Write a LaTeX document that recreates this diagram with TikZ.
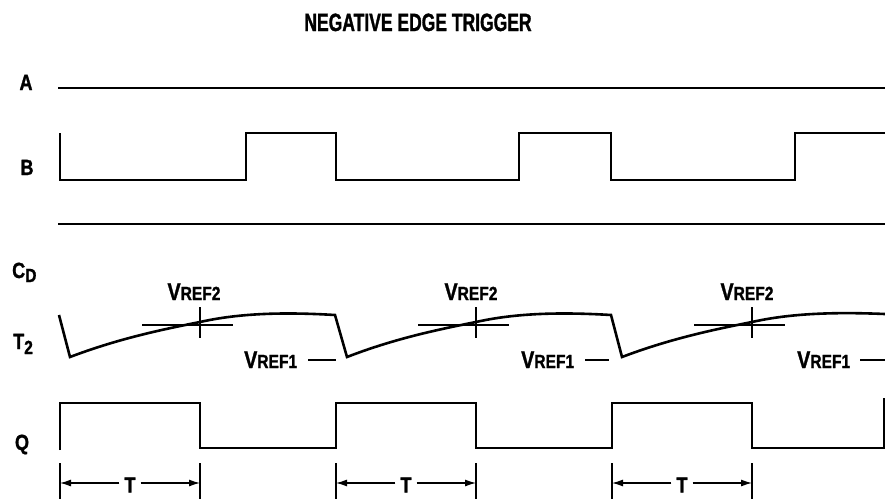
\documentclass[tikz,border=0pt]{standalone}
\usepackage{fontspec}
\newfontfamily\condt{Liberation Sans Bold}[FakeStretch=0.70,FakeBold=1.2]
\newfontfamily\cond{Liberation Sans Bold}[FakeStretch=0.82,FakeBold=1.2]
\usetikzlibrary{arrows.meta}
\tikzset{
  wave/.style={line width=2.6pt, line join=miter},
  thin/.style={line width=1.2pt},
  lbl/.style={font=\cond\fontsize{22}{22}\selectfont, inner sep=0pt, anchor=base},
  dim/.style={line width=1.2pt, -{Latex[length=11pt,width=7pt]}},
}
\newcommand{\vref}[1]{{\fontsize{24}{24}\selectfont V}{\fontsize{19}{19}\selectfont REF#1}}
\begin{document}
\begin{tikzpicture}[x=1pt,y=-1pt]
\useasboundingbox (0,0) rectangle (885,499);
% title
\node[lbl, font=\condt\fontsize{25}{25}\selectfont] (title) at (418,31) {NEGATIVE EDGE TRIGGER};
% labels
\node[lbl] (la) at (26,90) {A};
\node[lbl] (lb) at (27,175) {B};
\node[lbl, anchor=base west] (lcd) at (12,278) {C\raisebox{-4pt}{\fontsize{19}{19}\selectfont D}};
\node[lbl, anchor=base west] (lt2) at (13,349) {T\raisebox{-5pt}{\fontsize{19}{19}\selectfont 2}};
\node[lbl] (lq) at (22,450) {Q};
% A
\draw[wave] (58,88) -- (885,88);
% B
\draw[wave] (60,133) -- (60,180) -- (246,180) -- (246,133) -- (336,133) -- (336,180)
  -- (519,180) -- (519,133) -- (611,133) -- (611,180) -- (795,180) -- (795,133) -- (885,133);
% separator
\draw[wave] (58,224) -- (885,224);
% crosshairs
\foreach \i in {0,276,552}{
  \begin{scope}[xshift=\i]
    \draw[thin] (142,325) -- (233,325);
    \draw[thin] (200,307) -- (200,338);
  \end{scope}
}
% T2 waveform
\draw[wave] (59,315) -- (70,357) .. controls (120,338) and (165,329) .. (200,322)
  .. controls (240,313) and (285,312) .. (335,315)
  -- (347,357) .. controls (396,338) and (441,329) .. (476,322)
  .. controls (516,313) and (561,312) .. (611,315)
  -- (622,357) .. controls (672,338) and (717,329) .. (752,322)
  .. controls (792,313) and (837,312) .. (885,314);
% VREF labels
\node[lbl] (v2a) at (194,300) {\vref{2}};
\node[lbl] (v2b) at (471,300) {\vref{2}};
\node[lbl] (v2c) at (747,300) {\vref{2}};
\node[lbl, anchor=base west] (v1a) at (244,368) {\vref{1}};
\node[lbl, anchor=base west] (v1b) at (521,368) {\vref{1}};
\node[lbl, anchor=base west] (v1c) at (797,368) {\vref{1}};
\coordinate (d1a) at (308,360); \coordinate (d1b) at (336,360);
\coordinate (d2a) at (585,360); \coordinate (d2b) at (609,360);
\coordinate (d3a) at (860,360); \coordinate (d3b) at (885,360);
\draw[thin] (d1a) -- (d1b);
\draw[thin] (d2a) -- (d2b);
\draw[thin] (d3a) -- (d3b);
% Q
\draw[wave] (60,450) -- (60,403) -- (200,403) -- (200,448) -- (336,448) -- (336,403)
  -- (476,403) -- (476,448) -- (612,448) -- (612,403) -- (752,403) -- (752,448) -- (884,448) -- (884,398);
% T dimensions
\foreach \i/\n in {0/ta,276/tb,552/tc}{
  \begin{scope}[xshift=\i]
    \coordinate (\n l) at (60,483);
    \coordinate (\n r) at (200,483);
    \draw[thin] (60,463) -- (60,499);
    \draw[thin] (200,463) -- (200,499);
    \node[lbl, anchor=center, inner xsep=5pt] (\n) at (130,485) {T};
    \draw[dim] (\n.west) ++(0,-2) -- (\n l);
    \draw[dim] (\n.east) ++(0,-2) -- (\n r);
  \end{scope}
}
\end{tikzpicture}
\end{document}
